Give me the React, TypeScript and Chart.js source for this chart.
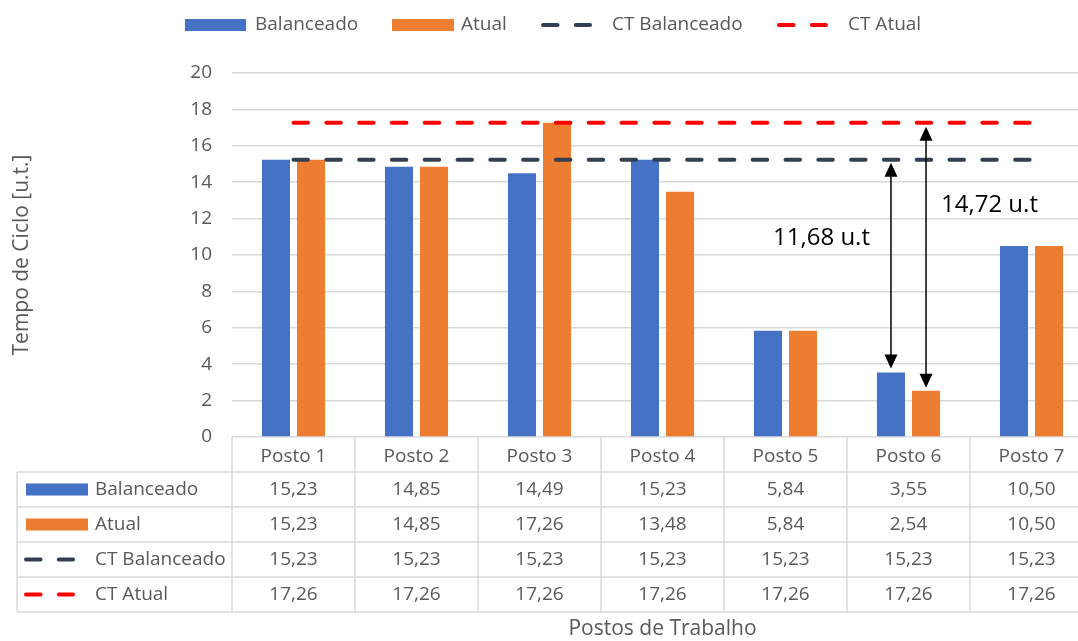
import React, { useEffect, useRef } from "react";
import { Chart, registerables } from "chart.js";

Chart.register(...registerables);

// ---- Data ----
const categories = ["Posto 1", "Posto 2", "Posto 3", "Posto 4", "Posto 5", "Posto 6", "Posto 7"];
const balanceado = [15.23, 14.85, 14.49, 15.23, 5.84, 3.55, 10.5];
const atual = [15.23, 14.85, 17.26, 13.48, 5.84, 2.54, 10.5];
const ctBalanceado = [15.23, 15.23, 15.23, 15.23, 15.23, 15.23, 15.23];
const ctAtual = [17.26, 17.26, 17.26, 17.26, 17.26, 17.26, 17.26];
const yMin = 0;
const yMax = 20;
const yStep = 2;
const xTitle = "Postos de Trabalho";
const yTitle = "Tempo de Ciclo [u.t.]";
const annotatedIndex = 5; // Posto 6

// ---- Styles ----
const FONT = "'Open Sans', sans-serif";
const GRAY = "#595959";
const GRID = "#D9D9D9";
const BLUE = "#4472C4";
const ORANGE = "#ED7D31";
const DARK = "#333F50";
const RED = "#FF0000";
const DASH = [14.5, 18.3];
const TXT = 19;
const TITLE_TXT = 21;

const CANVAS_W = 1093;
const CANVAS_H = 641;

const fmt = (v: number) => v.toFixed(2).replace(".", ",");

const series = [
  { label: "Balanceado", kind: "bar", color: BLUE, data: balanceado },
  { label: "Atual", kind: "bar", color: ORANGE, data: atual },
  { label: "CT Balanceado", kind: "line", color: DARK, data: ctBalanceado },
  { label: "CT Atual", kind: "line", color: RED, data: ctAtual },
];

function drawKey(ctx: CanvasRenderingContext2D, kind: string, color: string, x1: number, x2: number, yc: number) {
  ctx.save();
  if (kind === "bar") {
    ctx.fillStyle = color;
    ctx.fillRect(x1, yc - 6, x2 - x1, 12);
  } else {
    ctx.strokeStyle = color;
    ctx.lineWidth = 4;
    ctx.lineCap = "round";
    ctx.setLineDash(DASH);
    ctx.beginPath();
    ctx.moveTo(x1 + 2, yc);
    ctx.lineTo(x2 - 2, yc);
    ctx.stroke();
  }
  ctx.restore();
}

function drawArrow(ctx: CanvasRenderingContext2D, x: number, yTop: number, yBot: number) {
  const hl = 14;
  const hw = 6.5;
  ctx.save();
  ctx.strokeStyle = "#000";
  ctx.fillStyle = "#000";
  ctx.lineWidth = 1.5;
  ctx.beginPath();
  ctx.moveTo(x, yTop + hl - 1);
  ctx.lineTo(x, yBot - hl + 1);
  ctx.stroke();
  ctx.beginPath();
  ctx.moveTo(x, yTop);
  ctx.lineTo(x - hw, yTop + hl);
  ctx.lineTo(x + hw, yTop + hl);
  ctx.closePath();
  ctx.fill();
  ctx.beginPath();
  ctx.moveTo(x, yBot);
  ctx.lineTo(x - hw, yBot - hl);
  ctx.lineTo(x + hw, yBot - hl);
  ctx.closePath();
  ctx.fill();
  ctx.restore();
}

const decorPlugin = {
  id: "decor",
  afterDraw(chart: any) {
    const ctx: CanvasRenderingContext2D = chart.ctx;
    const { right, bottom } = chart.chartArea;
    const xs = chart.scales.x;
    const ys = chart.scales.y;

    // ---- Legend ----
    const legendPos = [
      { x1: 185, x2: 246, tx: 255 },
      { x1: 392, x2: 454, tx: 461 },
      { x1: 541, x2: 592, tx: 612 },
      { x1: 777, x2: 828, tx: 848 },
    ];
    const ly = 25;
    ctx.save();
    ctx.font = `${TXT}px ${FONT}`;
    ctx.textBaseline = "middle";
    ctx.textAlign = "left";
    series.forEach((s, i) => {
      const p = legendPos[i];
      drawKey(ctx, s.kind, s.color, p.x1, p.x2, ly);
      ctx.fillStyle = GRAY;
      ctx.fillText(s.label, p.tx, ly);
    });
    ctx.restore();

    // ---- Data table ----
    const colW = xs.getPixelForValue(1) - xs.getPixelForValue(0);
    const bounds = categories.map((_, i) => xs.getPixelForValue(i) - colW / 2);
    bounds.push(right);
    const tableLeft = 17;
    const rowH = 35;
    const top = bottom;
    const tableBottom = top + rowH * (series.length + 1);

    ctx.save();
    ctx.strokeStyle = GRID;
    ctx.lineWidth = 1.5;
    ctx.beginPath();
    for (let k = 1; k <= series.length + 1; k++) {
      const y = top + k * rowH;
      ctx.moveTo(tableLeft, y);
      ctx.lineTo(right, y);
    }
    bounds.forEach((bx) => {
      ctx.moveTo(bx, top);
      ctx.lineTo(bx, tableBottom);
    });
    ctx.moveTo(tableLeft, top + rowH);
    ctx.lineTo(tableLeft, tableBottom);
    ctx.stroke();

    ctx.font = `${TXT}px ${FONT}`;
    ctx.textBaseline = "middle";
    series.forEach((s, k) => {
      const yc = top + rowH * (k + 1) + rowH / 2;
      if (s.kind === "bar") drawKey(ctx, s.kind, s.color, 26, 88, yc);
      else drawKey(ctx, s.kind, s.color, 24, 75, yc);
      ctx.fillStyle = GRAY;
      ctx.textAlign = "left";
      ctx.fillText(s.label, 95, yc);
      ctx.textAlign = "center";
      s.data.forEach((v, i) => {
        ctx.fillText(fmt(v), xs.getPixelForValue(i), yc);
      });
    });
    ctx.restore();

    // ---- Annotations ----
    const bx = chart.getDatasetMeta(0).data[annotatedIndex].x;
    const ax = chart.getDatasetMeta(1).data[annotatedIndex].x;
    drawArrow(ctx, bx, ys.getPixelForValue(ctBalanceado[annotatedIndex]) + 3, ys.getPixelForValue(balanceado[annotatedIndex]) - 4);
    drawArrow(ctx, ax, ys.getPixelForValue(ctAtual[annotatedIndex]) + 4, ys.getPixelForValue(atual[annotatedIndex]) - 3);

    ctx.save();
    ctx.font = `24px ${FONT}`;
    ctx.fillStyle = "#000";
    ctx.textBaseline = "middle";
    ctx.textAlign = "right";
    ctx.fillText(
      `${fmt(ctBalanceado[annotatedIndex] - balanceado[annotatedIndex])} u.t`,
      bx - 21,
      ys.getPixelForValue(10.95)
    );
    ctx.textAlign = "left";
    ctx.fillText(
      `${fmt(ctAtual[annotatedIndex] - atual[annotatedIndex])} u.t`,
      ax + 15,
      ys.getPixelForValue(12.75)
    );
    ctx.restore();
  },
};

export default function App() {
  const ref = useRef<HTMLCanvasElement | null>(null);

  useEffect(() => {
    if (!ref.current) return;
    const chart = new Chart(ref.current, {
      type: "bar",
      data: {
        labels: categories,
        datasets: [
          {
            type: "bar",
            label: series[0].label,
            data: balanceado,
            backgroundColor: BLUE,
            categoryPercentage: 0.57,
            barPercentage: 0.8,
            order: 1,
          },
          {
            type: "bar",
            label: series[1].label,
            data: atual,
            backgroundColor: ORANGE,
            categoryPercentage: 0.57,
            barPercentage: 0.8,
            order: 1,
          },
          {
            type: "line",
            label: series[2].label,
            data: ctBalanceado,
            borderColor: DARK,
            borderWidth: 4,
            borderDash: DASH,
            borderCapStyle: "round",
            pointRadius: 0,
            fill: false,
            order: 0,
          },
          {
            type: "line",
            label: series[3].label,
            data: ctAtual,
            borderColor: RED,
            borderWidth: 4,
            borderDash: DASH,
            borderCapStyle: "round",
            pointRadius: 0,
            fill: false,
            order: 0,
          },
        ] as any,
      },
      options: {
        responsive: false,
        animation: false,
        devicePixelRatio: 1,
        layout: { padding: { top: 73, left: 0, right: 0, bottom: 0 } },
        plugins: {
          legend: { display: false },
          tooltip: { enabled: false },
          title: { display: false },
        },
        scales: {
          x: {
            type: "category",
            offset: true,
            grid: { display: false, drawTicks: false },
            border: { display: false },
            ticks: {
              font: { family: FONT, size: TXT },
              color: GRAY,
              padding: 8,
              maxRotation: 0,
              autoSkip: false,
            },
            title: {
              display: true,
              text: xTitle,
              font: { family: FONT, size: TITLE_TXT },
              color: GRAY,
              padding: { top: 0, bottom: -1 },
            },
            afterFit: (scale: any) => {
              scale.height = CANVAS_H - 437;
            },
          },
          y: {
            min: yMin,
            max: yMax,
            grid: { color: GRID, lineWidth: 1.5, drawTicks: false },
            border: { display: false },
            ticks: {
              stepSize: yStep,
              font: { family: FONT, size: TXT },
              color: GRAY,
              padding: 20,
            },
            title: {
              display: true,
              text: yTitle,
              font: { family: FONT, size: TITLE_TXT },
              color: GRAY,
              padding: { top: 9, bottom: 0 },
            },
            afterFit: (scale: any) => {
              scale.width = 232;
            },
          },
        },
      } as any,
      plugins: [decorPlugin],
    });
    return () => chart.destroy();
  }, []);

  return (
    <div
      style={{
        position: "fixed",
        left: 0,
        top: 0,
        width: 1078,
        height: 641,
        overflow: "hidden",
        background: "#fff",
      }}
    >
      <canvas ref={ref} width={CANVAS_W} height={CANVAS_H} style={{ display: "block" }} />
    </div>
  );
}
